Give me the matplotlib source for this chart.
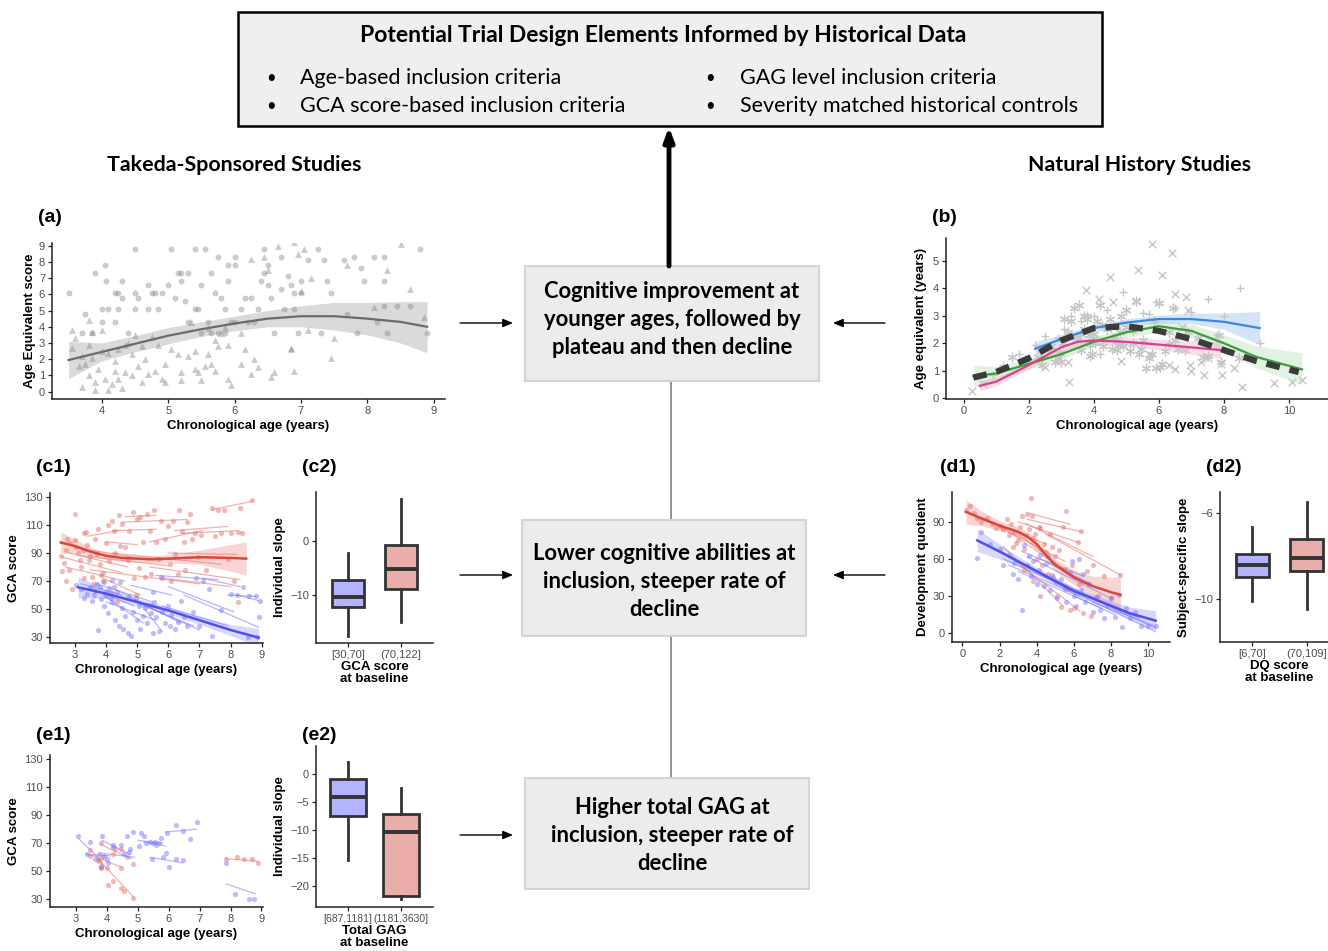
import matplotlib
matplotlib.use("Agg")
import matplotlib.pyplot as plt
from matplotlib.patches import Rectangle

W, H = 1328, 951

# ---------------- DATA ----------------
# (a) Takeda: age equivalent score vs chronological age
a_circ_x = [3.5,3.7,3.75,3.85,3.9,4.0,4.05,4.07,4.0,4.1,4.2,4.25,4.2,4.3,4.25,4.3,4.4,4.5,4.5,4.5,4.55,4.7,4.75,4.8,4.7,4.85,4.9,5.0,5.05,5.1,5.15,5.2,5.2,5.25,5.3,5.3,5.4,5.4,5.45,5.5,5.5,5.55,5.6,5.65,5.65,5.7,5.75,5.75,5.8,5.85,5.85,5.9,5.9,5.95,6.0,6.0,6.0,6.1,6.15,6.2,6.25,6.3,6.35,6.45,6.45,6.5,6.5,6.4,6.55,6.6,6.7,6.7,6.75,6.8,6.85,6.9,6.9,6.95,7.0,7.0,7.1,7.25,7.3,7.35,7.4,7.45,7.65,7.7,7.8,7.85,7.9,7.95,8.1,8.15,8.25,8.25,8.3,8.45,8.65,8.8,8.9,8.25]
a_circ_y = [6.1,3.6,4.8,3.6,7.3,5.1,7.8,6.8,4.3,5.1,6.1,6.1,4.3,6.8,5.1,5.8,3.6,8.8,6.1,5.1,5.8,6.6,6.1,6.1,5.1,5.1,6.1,6.6,8.8,5.8,7.3,7.3,6.8,5.6,7.3,4.3,8.8,5.1,5.1,3.6,6.6,8.8,4.3,7.3,3.6,6.1,8.3,3.6,5.8,3.6,5.1,7.8,6.8,4.3,8.3,7.8,4.3,5.1,5.8,4.3,5.8,4.3,5.1,8.8,7.3,7.8,6.6,6.8,5.8,3.6,8.3,6.3,5.1,7.1,6.6,6.1,5.1,3.6,6.8,6.1,8.1,8.8,3.6,8.1,6.8,6.1,8.1,4.8,8.3,3.6,7.6,6.8,8.3,4.3,6.8,5.3,3.6,5.3,5.3,8.8,3.6,8.3]
a_tri_x = [3.55,3.55,3.6,3.65,3.7,3.7,3.75,3.8,3.8,3.8,3.85,3.85,3.9,3.9,3.95,4.0,4.0,4.05,4.1,4.1,4.15,4.2,4.2,4.25,4.25,4.3,4.35,4.35,4.4,4.45,4.45,4.5,4.55,4.6,4.6,4.65,4.7,4.75,4.8,4.85,4.9,4.95,4.95,5.05,5.15,5.2,5.2,5.3,5.35,5.4,5.4,5.45,5.5,5.55,5.6,5.6,5.65,5.7,5.7,5.75,5.8,5.85,5.9,5.9,5.95,6.1,6.1,6.15,6.25,6.25,6.3,6.35,6.45,6.5,6.55,6.6,6.65,6.85,6.9,6.9,6.95,7.0,7.05,7.1,7.15,7.45,7.5,7.7,8.1,8.3,8.5,8.65,8.85,6.85]
a_tri_y = [3.8,2.7,3.3,1.6,0.3,2.2,1.7,4.4,1.0,2.9,3.7,2.1,0.6,0.1,1.4,2.5,3.8,0.8,2.4,0.1,0.5,1.9,1.3,0.8,2.6,0.2,2.9,1.2,3.0,1.0,2.3,3.5,1.6,0.6,2.8,2.0,1.1,3.4,1.3,2.9,0.8,0.6,1.7,2.6,2.3,1.2,0.7,2.2,4.3,2.5,1.4,1.2,0.7,1.6,2.3,3.9,1.7,3.2,1.3,2.8,3.6,4.0,2.9,0.8,0.4,3.6,1.7,2.6,8.2,1.1,2.0,1.5,8.3,7.5,0.9,1.2,9.0,2.6,9.2,1.3,8.5,6.2,8.8,3.8,7.0,2.1,3.3,7.8,5.2,7.5,9.1,6.3,4.6,2.7]
a_fit_x  = [3.5, 4.0, 4.5, 5.0, 5.5, 6.0, 6.5, 7.0, 7.5, 8.0, 8.5, 8.9]
a_fit_y  = [1.95,2.45,2.95,3.45,3.85,4.2, 4.5, 4.65,4.65,4.5, 4.3, 4.0]
a_fit_lo = [0.8, 1.9, 2.45,2.95,3.4, 3.75,4.0, 4.0, 3.8, 3.5, 3.0, 2.4]
a_fit_hi = [3.1, 3.0, 3.45,3.95,4.3, 4.65,5.0, 5.3, 5.5, 5.5, 5.55,5.55]

# (b) Natural history: age equivalent vs chronological age
b_x_x = [0.25,0.6,3.25,4.15,4.5,5.35,5.8,6.1,6.4,6.5,6.85,6.3,6.5,7.0,7.4,7.5,7.95,8.3,8.55,9.55,10.1,10.4,6.95,7.9,5.7,4.85,3.75,5.3,4.6,6.7,7.3,3.2,2.5,6.9]
b_x_y = [0.25,0.5,0.6,3.6,4.4,4.65,5.6,4.5,5.3,3.8,3.7,1.2,1.05,1.0,0.85,1.45,0.85,1.1,0.4,0.55,0.6,0.65,1.2,1.25,1.6,1.35,3.95,3.55,3.5,2.6,1.3,1.3,1.15,3.2]
b_p_x = [2.5,2.9,3.1,3.3,3.6,4.0,4.2,4.4,4.9,5.2,5.5,5.7,5.9,6.0,6.3,6.5,7.0,7.5,8.0,8.5,9.1,7.8,6.8,2.2,1.7,1.2,0.9,4.7,3.9,2.7]
b_p_y = [2.25,2.2,2.5,3.0,2.8,3.0,1.6,3.2,3.85,2.4,3.1,3.05,3.5,3.5,2.0,3.3,3.15,3.6,3.0,4.0,2.0,2.3,2.5,1.95,1.6,1.2,0.85,2.1,1.9,1.8]
b_s_x = [1.5,1.9,2.3,2.4,2.6,2.7,2.8,2.9,3.0,3.05,3.1,3.2,3.3,3.4,3.5,3.55,3.6,3.7,3.7,3.8,3.8,3.85,3.9,3.95,4.0,4.05,4.1,4.2,4.25,4.3,4.4,4.5,4.55,4.6,4.7,4.8,4.85,4.9,5.0,5.0,5.1,5.2,5.3,5.4,5.5,5.6,5.7,5.8,5.9,6.0,6.05,6.1,6.2,6.3,6.45,6.5,6.6,6.8,7.2,7.35,7.5,7.85,7.9,8.45,5.45,4.75,4.0,3.6,2.95,5.85,6.9]
b_s_y = [1.5,1.4,1.5,1.2,1.75,1.9,1.3,1.45,1.3,2.0,2.9,2.4,2.8,3.3,2.2,3.4,1.75,2.5,3.0,2.9,3.0,2.3,1.55,1.6,2.2,2.0,2.8,3.4,2.65,1.9,2.5,2.9,1.8,2.2,1.75,2.4,3.0,1.9,3.2,2.6,1.7,2.0,3.55,1.6,2.1,1.1,1.45,1.6,1.1,3.45,1.15,1.25,1.7,2.4,3.3,2.1,1.8,1.75,2.2,1.5,1.55,2.3,1.3,1.45,1.8,1.95,2.35,2.35,1.65,2.8,2.4]
b_all_x = [0.3,1.0,2.0,3.0,4.0,5.0,6.0,7.0,8.0,9.0,10.3]
b_all_y = [0.75,0.95,1.45,2.1,2.55,2.62,2.45,2.15,1.75,1.35,0.95]
b_blue_x  = [2.2,3.0,4.0,5.0,6.0,7.0,8.0,9.1]
b_blue_y  = [1.8,2.15,2.55,2.75,2.88,2.88,2.78,2.55]
b_blue_lo = [1.55,1.98,2.42,2.62,2.74,2.72,2.5,1.95]
b_blue_hi = [2.05,2.32,2.68,2.88,3.02,3.1,3.1,3.15]
b_green_x  = [0.3,1.0,2.0,3.0,4.0,5.0,6.0,7.0,8.0,9.0,10.4]
b_green_y  = [0.8,0.9,1.25,1.6,2.05,2.4,2.62,2.45,2.0,1.5,1.05]
b_green_lo = [0.4,0.65,1.05,1.42,1.88,2.22,2.4,2.2,1.7,1.1,0.5]
b_green_hi = [1.2,1.15,1.45,1.78,2.22,2.58,2.84,2.7,2.3,1.9,1.65]
b_pink_x  = [0.5,1.0,2.0,3.0,3.5,4.0,5.0,6.0,7.0,7.9]
b_pink_y  = [0.45,0.6,1.2,1.85,2.05,2.1,2.05,1.95,1.85,1.75]
b_pink_lo = [0.25,0.45,1.05,1.7,1.9,1.95,1.88,1.75,1.6,1.45]
b_pink_hi = [0.65,0.75,1.35,2.0,2.2,2.25,2.22,2.15,2.1,2.05]

# (c1) GCA score vs age, split by baseline GCA
c1_red_x = [2.55,2.6,2.65,2.7,2.75,2.8,2.85,2.9,3.0,3.0,3.05,3.1,3.15,3.2,3.25,3.3,3.35,3.4,3.45,3.5,3.55,3.6,3.65,3.7,3.75,3.8,3.85,3.9,3.95,4.0,4.05,4.1,4.15,4.2,4.25,4.3,4.35,4.4,4.45,4.5,4.6,4.7,4.75,4.85,4.9,5.0,5.05,5.1,5.2,5.3,5.4,5.45,5.55,5.6,5.7,5.75,5.8,5.9,6.0,6.05,6.15,6.2,6.3,6.35,6.45,6.5,6.55,6.6,6.7,6.75,6.85,6.95,7.05,7.2,7.4,7.5,7.6,7.7,7.8,7.9,8.0,8.1,8.25,8.3,8.35,8.7,8.25,5.25,4.95,6.1,3.3,2.7]
c1_red_y = [88,77,83,92,100,78,97,64,118,99,94,90,85,80,92,104,105,96,85,88,73,68,100,89,107,82,74,76,69,97,110,84,62,113,106,90,55,117,95,111,94,85,106,119,72,114,79,116,98,118,106,75,121,98,86,113,72,100,109,82,113,89,75,121,106,98,78,112,118,100,104,87,103,78,122,102,121,104,121,86,104,70,55,122,104,128,105,73,60,70,72,70]
c1_red_subj = [(3.4,102,4.4,106),(4.2,106,5.6,107),(4.5,112,6.6,114),(5.4,98,7.1,106),(6.2,106,7.9,109),(7.4,121,8.7,127),(6.4,104,8.2,106),(2.6,87,4.5,76),(2.7,80,4.6,70),(2.8,90,4.7,80),(3.0,94,5.4,85),(3.2,88,6.0,81),(3.5,78,7.0,68),(3.9,72,5.1,60),(4.2,90,7.7,82),(5.4,80,8.3,71),(5.9,72,8.0,66),(6.0,90,8.2,89),(4.0,98,5.0,96),(4.6,116,5.6,117)]
c1_blue_x = [3.05,3.2,3.3,3.4,3.5,3.55,3.6,3.7,3.75,3.8,3.85,3.9,3.95,4.0,4.05,4.1,4.15,4.2,4.25,4.3,4.35,4.4,4.45,4.5,4.55,4.6,4.7,4.75,4.8,4.85,4.95,5.0,5.05,5.1,5.2,5.25,5.3,5.4,5.45,5.5,5.55,5.6,5.7,5.75,5.8,5.9,6.0,6.05,6.1,6.2,6.3,6.4,6.5,6.6,6.8,6.9,7.0,7.1,7.3,7.4,7.7,8.0,8.2,8.4,8.55,8.6,8.8,8.85,8.9,8.95,4.2,3.65,4.0,5.5]
c1_blue_y = [67,64,58,61,66,56,60,68,35,66,57,70,52,62,47,65,58,55,66,42,62,38,69,51,36,45,33,59,31,48,58,42,52,36,45,51,40,53,47,33,55,44,34,73,48,40,52,38,46,36,41,56,44,38,48,72,38,70,64,31,49,61,60,66,30,59,59,30,44,56,71,63,59,62]
c1_blue_subj = [(3.2,68,4.5,60),(3.5,65,4.9,52),(3.7,68,5.5,55),(3.9,60,5.2,40),(4.0,55,5.6,42),(4.3,64,6.4,40),(4.6,58,6.8,38),(5.0,55,7.0,35),(5.2,51,5.8,34),(5.6,74,7.6,71),(5.8,52,7.9,38),(6.0,66,8.1,48),(6.5,60,8.9,37),(7.1,72,8.3,66),(7.9,60,8.8,59),(8.2,60,8.9,56),(4.8,67,6.1,60)]
c1_red_fit_x  = [2.55,3.0,3.5,4.0,4.5,5.0,5.5,6.0,7.0,8.0,8.5]
c1_red_fit_y  = [97.5,95,91,88,86.5,86,85.5,86,87,86.5,86]
c1_red_fit_lo = [90,90,88,85.5,84,83.5,83,83,82,77,74]
c1_red_fit_hi = [105,100,94,90.5,89,88.5,88,89,92,96,98]
c1_blue_fit_x  = [3.1,4.0,5.0,6.0,7.0,8.0,8.9]
c1_blue_fit_y  = [65.5,61,55,49,42,35,29.5]
c1_blue_fit_lo = [58,57.5,52.5,46.5,39,31,23]
c1_blue_fit_hi = [73,64.5,57.5,51.5,45,39,36]

# (c2) individual slope by baseline GCA
c2_groups = ["[30,70]", "(70,122]"]
c2_med   = [-10.4, -5.2]
c2_q1    = [-12.3, -9.0]
c2_q3    = [-7.3, -0.8]
c2_wlo   = [-17.7, -15.1]
c2_whi   = [-2.2, 7.9]

# (d1) development quotient vs age, split by baseline DQ
d1_red_x = [0.2,0.4,0.6,0.8,1.0,1.3,1.6,1.8,2.0,2.2,2.4,2.5,2.6,2.7,2.8,3.0,3.1,3.2,3.3,3.4,3.5,3.6,3.7,3.75,3.8,3.9,4.0,4.1,4.2,4.3,4.4,4.5,4.6,4.7,4.8,4.9,5.0,5.1,5.2,5.3,5.4,5.5,5.6,5.7,5.8,5.9,6.0,6.2,6.3,6.4,6.5,6.7,6.9,7.0,7.3,7.6,8.0,8.5,2.9,3.3,3.8,4.2]
d1_red_y = [100,103,97,93,90,93,88,85,87,84,92,79,88,70,82,75,86,95,68,79,96,84,109,95,77,80,60,86,85,55,72,66,48,80,70,45,62,30,67,21,86,52,99,36,19,55,20,74,40,83,16,50,14,55,30,46,28,47,73,51,42,30]
d1_red_subj = [(1.0,92,3.3,80),(1.5,90,4.5,72),(2.0,86,5.5,58),(2.5,82,6.0,46),(3.0,80,6.5,40),(3.0,90,6.3,73),(3.6,97,5.8,88),(3.4,89,7.0,62),(4.5,80,8.5,47),(2.2,70,5.4,22),(2.7,60,6.3,18),(3.5,92,6.4,82)]
d1_blue_x = [0.8,1.0,1.5,2.0,2.2,2.5,2.7,2.8,3.0,3.2,3.3,3.5,3.6,3.7,3.8,4.0,4.1,4.2,4.4,4.5,4.7,4.8,5.0,5.1,5.3,5.5,5.6,5.8,6.0,6.1,6.3,6.4,6.6,6.8,7.0,7.2,7.4,7.6,7.8,8.0,8.2,8.4,8.6,8.8,9.0,9.3,9.6,10.0,10.4,5.9,4.6,6.5]
d1_blue_y = [61,82,72,68,55,63,48,57,44,19,71,55,62,46,58,40,51,63,38,56,35,47,42,28,44,36,25,49,30,22,60,35,25,40,17,29,19,12,23,28,13,31,5,20,12,17,6,6,6,58,62,48]
d1_blue_subj = [(1.5,70,4.5,45),(2.2,60,5.5,38),(2.5,55,6.3,30),(3.0,50,7.5,20),(3.5,62,8.0,28),(4.0,50,9.0,15),(4.5,45,10.4,4),(5.0,40,10.4,1),(5.5,38,9.5,12),(3.2,66,6.5,46),(4.2,60,6.9,40),(6.0,30,8.2,15),(7.0,25,10.3,6)]
d1_red_fit_x  = [0.2,1.0,2.0,3.0,3.5,4.0,4.5,5.0,6.0,7.0,8.0,8.5]
d1_red_fit_y  = [98,93,87,82,78,72,63,55,45,38,33,31]
d1_red_fit_lo = [88,87,83,78,74,68,59,50,39,30,21,16]
d1_red_fit_hi = [108,99,91,86,82,76,67,60,51,46,45,46]
d1_blue_fit_x  = [0.8,2.0,3.0,4.0,5.0,6.0,7.0,8.0,9.0,10.4]
d1_blue_fit_y  = [75,66,58,50,42,34,28,22,16,10]
d1_blue_fit_lo = [66,60,54,47,39,31,25,18,11,2]
d1_blue_fit_hi = [84,72,62,53,45,37,31,26,21,18]

# (d2) subject-specific slope by baseline DQ
d2_groups = ["[6,70]", "(70,109]"]
d2_med = [-8.43, -8.08]
d2_q1  = [-8.98, -8.68]
d2_q3  = [-7.92, -7.23]
d2_wlo = [-10.06, -10.44]
d2_whi = [-6.67, -5.49]

# (e1) GCA score vs age, split by baseline GAG
e1_blue_x = [3.05,3.35,3.45,3.6,3.75,3.8,3.85,3.9,4.05,4.0,4.2,4.2,4.45,4.55,4.65,4.7,4.75,4.85,5.05,5.1,5.2,5.25,5.4,5.45,5.55,5.5,5.6,5.7,5.75,5.8,5.9,5.95,6.0,6.25,6.25,6.45,6.45,6.7,6.9,7.85,8.15,8.6,8.75]
e1_blue_y = [75,62,71,59,62,53,75,61,56,59,69,67,69,62,75,64,66,78,68,77,75,70,71,59,71,70,69,70,74,60,63,77,53,59,83,58,79,73,85,56,34,30,30]
e1_blue_subj = [(3.1,73,3.75,59),(3.35,62,4.1,61),(3.85,72,4.75,62),(5.0,72,5.8,70),(5.2,71,5.9,68),(5.4,60,6.45,56),(5.9,78,6.9,80),(7.85,41,8.8,34),(3.8,63,4.9,60)]
e1_red_x = [3.45,3.45,3.7,3.75,3.8,3.8,3.8,3.85,4.0,4.05,4.2,4.2,4.25,4.45,4.45,4.45,4.55,4.65,4.85,4.85,7.85,8.2,8.45,8.7,8.9]
e1_red_y = [65,61,58,57,70,54,52,60,52,40,43,62,66,66,38,52,36,60,31,55,59,60,59,59,56]
e1_red_subj = [(3.8,69,4.8,59),(3.45,62,4.45,53),(3.75,58,4.85,32),(3.7,60,3.85,55),(7.85,59,8.9,57)]

# (e2) individual slope by baseline total GAG
e2_groups = ["[687,1181]", "(1181,3630]"]
e2_med = [-4.2, -10.3]
e2_q1  = [-7.6, -21.8]
e2_q3  = [-0.96, -7.2]
e2_wlo = [-15.4, -22.3]
e2_whi = [2.2, -2.5]

# ---------------- STYLE ----------------
PLOT_FONT = "Liberation Sans"
DIAG_FONT = "Lato"
TICKC = "#4d4d4d"
RED_PT = "#e8736b"
BLUE_PT = "#7b7bff"
RED_LN = "#d9463a"
BLUE_LN = "#4f4ff0"
BOX_BLUE = "#b3b3ff"
BOX_RED = "#e9aeaa"

plt.rcParams["font.family"] = PLOT_FONT

fig = plt.figure(figsize=(W / 100, H / 100), dpi=100)
ov = fig.add_axes([0, 0, 1, 1])
ov.set_xlim(0, W)
ov.set_ylim(H, 0)
ov.axis("off")


def pax(l, t, r, b):
    ax = fig.add_axes([l / W, 1 - b / H, (r - l) / W, (b - t) / H])
    for s in ("top", "right"):
        ax.spines[s].set_visible(False)
    for s in ("left", "bottom"):
        ax.spines[s].set_linewidth(1.1)
        ax.spines[s].set_color("#222222")
    ax.tick_params(labelsize=8, colors="#222222", labelcolor=TICKC, length=3, width=0.9, pad=2)
    ax.patch.set_alpha(0)
    return ax


LAB = dict(fontsize=9.5, fontweight="bold", family=PLOT_FONT, color="black")


def panel_label(x, y, s):
    ov.text(x, y, s, fontsize=14, fontweight="bold", family=PLOT_FONT, va="center", ha="left")


def boxes(ax, groups, med, q1, q3, wlo, whi, width):
    stats = []
    for i in range(len(groups)):
        stats.append(dict(med=med[i], q1=q1[i], q3=q3[i], whislo=wlo[i], whishi=whi[i], fliers=[]))
    bp = ax.bxp(stats, positions=list(range(1, len(groups) + 1)), widths=width, patch_artist=True,
                showfliers=False, showcaps=False,
                boxprops=dict(linewidth=2, edgecolor="#333333"),
                medianprops=dict(linewidth=2.8, color="#333333"),
                whiskerprops=dict(linewidth=2, color="#333333"))
    for patch, c in zip(bp["boxes"], [BOX_BLUE, BOX_RED]):
        patch.set_facecolor(c)
    ax.set_xticks(range(1, len(groups) + 1))
    ax.set_xticklabels(groups)
    ax.set_xlim(0.4, len(groups) + 0.6)


# ---------------- DIAGRAM ----------------
ov.add_patch(Rectangle((238, 12), 864, 114, facecolor="#efefef", edgecolor="black", lw=1.8))
ov.text(663, 35, "Potential Trial Design Elements Informed by Historical Data", family=DIAG_FONT,
        fontsize=16.5, fontweight="bold", ha="center", va="center")
for bx, tx, ty, s in [(271, 300, 78, "Age-based inclusion criteria"),
                      (271, 300, 106, "GCA score-based inclusion criteria"),
                      (710, 740, 78, "GAG level inclusion criteria"),
                      (710, 740, 106, "Severity matched historical controls")]:
    ov.text(bx, ty, "•", family=DIAG_FONT, fontsize=12, ha="center", va="center")
    ov.text(tx, ty, s, family=DIAG_FONT, fontsize=15.5, ha="left", va="center")

ov.text(234, 165, "Takeda-Sponsored Studies", family=DIAG_FONT, fontsize=15.4, fontweight="bold",
        ha="center", va="center")
ov.text(1140, 165, "Natural History Studies", family=DIAG_FONT, fontsize=15.4, fontweight="bold",
        ha="center", va="center")

ov.plot([671, 671], [381, 520], color="#888888", lw=1.3, zorder=0)
ov.plot([671, 671], [636, 778], color="#888888", lw=1.3, zorder=0)
ov.annotate("", xy=(669, 127), xytext=(669, 266),
            arrowprops=dict(arrowstyle="-|>,head_length=0.8,head_width=0.3", lw=3.5, color="black",
                            shrinkA=0, shrinkB=0))

center_boxes = [((525, 266, 294, 115), 672, [292, 320, 348],
                 ["Cognitive improvement at", "younger ages, followed by", "plateau and then decline"]),
                ((522, 520, 284, 116), 664, [554, 582, 610],
                 ["Lower cognitive abilities at", "inclusion, steeper rate of", "decline"]),
                ((525, 778, 284, 111), 672, [807, 835, 863],
                 ["Higher total GAG at", "inclusion, steeper rate of", "decline"])]
for (x, y, w, h), cx, ys, lines in center_boxes:
    ov.add_patch(Rectangle((x, y), w, h, facecolor="#ececec", edgecolor="#d4d4d4", lw=1.5))
    for ty, s in zip(ys, lines):
        ov.text(cx, ty, s, family=DIAG_FONT, fontsize=15.8, fontweight="bold", ha="center", va="center")

arr = dict(arrowstyle="-|>,head_length=0.6,head_width=0.25", lw=1, color="black", shrinkA=0, shrinkB=0)
for y in (323, 575, 835):
    ov.annotate("", xy=(513, y), xytext=(460, y), arrowprops=arr)
for y in (323, 575):
    ov.annotate("", xy=(833, y), xytext=(885, y), arrowprops=arr)

# ---------------- (a) ----------------
panel_label(38, 218, "(a)")
ax = pax(52, 243, 445, 399)
ax.fill_between(a_fit_x, a_fit_lo, a_fit_hi, color="#bdbdbd", alpha=0.55, lw=0, zorder=1)
ax.scatter(a_circ_x, a_circ_y, s=18, marker="o", color="#7f7f7f", alpha=0.4, lw=0, zorder=2)
ax.scatter(a_tri_x, a_tri_y, s=24, marker="^", color="#7f7f7f", alpha=0.4, lw=0, zorder=2)
ax.plot(a_fit_x, a_fit_y, color="#6b6b6b", lw=1.6, zorder=3)
ax.set_xlim(3.25, 9.17)
ax.set_ylim(-0.45, 9.16)
ax.set_xticks(range(4, 10))
ax.set_yticks(range(0, 10))
ax.set_xlabel("Chronological age (years)", labelpad=3, **LAB)
ax.set_ylabel("Age Equivalent score", labelpad=2, **LAB)

# ---------------- (b) ----------------
panel_label(932, 218, "(b)")
ax = pax(946, 238, 1328, 399)
gc = "#c6c6c6"
ax.scatter(b_x_x, b_x_y, s=30, marker="x", color=gc, lw=1.0, zorder=2)
ax.scatter(b_p_x, b_p_y, s=40, marker="+", color=gc, lw=1.0, zorder=2)
ax.scatter(b_s_x, b_s_y, s=40, marker=(6, 2, 0), color=gc, lw=0.9, zorder=2)
ax.fill_between(b_green_x, b_green_lo, b_green_hi, color="#6cbf6c", alpha=0.2, lw=0, zorder=1)
ax.fill_between(b_blue_x, b_blue_lo, b_blue_hi, color="#6fa8e6", alpha=0.3, lw=0, zorder=1)
ax.fill_between(b_pink_x, b_pink_lo, b_pink_hi, color="#e27fae", alpha=0.25, lw=0, zorder=1)
ax.plot(b_green_x, b_green_y, color="#3c9d3c", lw=1.6, zorder=3)
ax.plot(b_blue_x, b_blue_y, color="#3a86dc", lw=1.6, zorder=3)
ax.plot(b_pink_x, b_pink_y, color="#d9408d", lw=1.6, zorder=3)
ax.plot(b_all_x, b_all_y, color="#3b3b3b", lw=4.5, dashes=(2.2, 1.6), zorder=4)
ax.set_xlim(-0.54, 11.2)
ax.set_ylim(-0.03, 5.83)
ax.set_xticks(range(0, 11, 2))
ax.set_yticks(range(0, 6))
ax.set_xlabel("Chronological age (years)", labelpad=3, **LAB)
ax.set_ylabel("Age equivalent (years)", labelpad=4, **LAB)


def traj_panel(ax, rx, ry, rsub, bx, by, bsub):
    for (x0, y0, x1, y1) in rsub:
        ax.plot([x0, x1], [y0, y1], color=RED_PT, lw=0.9, alpha=0.55, zorder=2)
    for (x0, y0, x1, y1) in bsub:
        ax.plot([x0, x1], [y0, y1], color=BLUE_PT, lw=0.9, alpha=0.55, zorder=2)
    ax.scatter(rx, ry, s=14, color=RED_PT, alpha=0.5, lw=0, zorder=2)
    ax.scatter(bx, by, s=14, color=BLUE_PT, alpha=0.5, lw=0, zorder=2)


# ---------------- (c1) ----------------
panel_label(36, 467, "(c1)")
ax = pax(50, 493, 263, 643)
traj_panel(ax, c1_red_x, c1_red_y, c1_red_subj, c1_blue_x, c1_blue_y, c1_blue_subj)
ax.fill_between(c1_red_fit_x, c1_red_fit_lo, c1_red_fit_hi, color=RED_PT, alpha=0.3, lw=0, zorder=1)
ax.fill_between(c1_blue_fit_x, c1_blue_fit_lo, c1_blue_fit_hi, color=BLUE_PT, alpha=0.3, lw=0, zorder=1)
ax.plot(c1_red_fit_x, c1_red_fit_y, color=RED_LN, lw=1.8, zorder=3)
ax.plot(c1_blue_fit_x, c1_blue_fit_y, color=BLUE_LN, lw=1.8, zorder=3)
ax.set_xlim(2.2, 9.04)
ax.set_ylim(25.7, 132.9)
ax.set_xticks(range(3, 10))
ax.set_yticks(range(30, 131, 20))
ax.set_xlabel("Chronological age (years)", labelpad=3, **LAB)
ax.set_ylabel("GCA score", labelpad=3, **LAB)

# ---------------- (c2) ----------------
panel_label(302, 467, "(c2)")
ax = pax(316, 492, 433, 643)
boxes(ax, c2_groups, c2_med, c2_q1, c2_q3, c2_wlo, c2_whi, 0.61)
ax.set_ylim(-19.0, 9.13)
ax.set_yticks([-10, 0])
ax.set_xlabel("GCA score\nat baseline", labelpad=1, linespacing=0.95, **LAB)
ax.set_ylabel("Individual slope", labelpad=3, **LAB)

# ---------------- (d1) ----------------
panel_label(940, 467, "(d1)")
ax = pax(952, 492, 1170, 642)
traj_panel(ax, d1_red_x, d1_red_y, d1_red_subj, d1_blue_x, d1_blue_y, d1_blue_subj)
ax.fill_between(d1_red_fit_x, d1_red_fit_lo, d1_red_fit_hi, color=RED_PT, alpha=0.3, lw=0, zorder=1)
ax.fill_between(d1_blue_fit_x, d1_blue_fit_lo, d1_blue_fit_hi, color=BLUE_PT, alpha=0.3, lw=0, zorder=1)
ax.plot(d1_red_fit_x, d1_red_fit_y, color=RED_LN, lw=1.8, zorder=3)
ax.plot(d1_blue_fit_x, d1_blue_fit_y, color=BLUE_LN, lw=1.8, zorder=3)
ax.set_xlim(-0.56, 11.17)
ax.set_ylim(-7.3, 114.2)
ax.set_xticks(range(0, 11, 2))
ax.set_yticks([0, 30, 60, 90])
ax.set_xlabel("Chronological age (years)", labelpad=3, **LAB)
ax.set_ylabel("Development quotient", labelpad=3, **LAB)

# ---------------- (d2) ----------------
panel_label(1206, 467, "(d2)")
ax = pax(1220, 492, 1339, 642)
boxes(ax, d2_groups, d2_med, d2_q1, d2_q3, d2_wlo, d2_whi, 0.61)
ax.set_ylim(-11.98, -5.03)
ax.set_yticks([-10, -6])
ax.set_xlabel("DQ score\nat baseline", labelpad=1, linespacing=0.95, **LAB)
ax.set_ylabel("Subject-specific slope", labelpad=3, **LAB)

# ---------------- (e1) ----------------
panel_label(36, 736, "(e1)")
ax = pax(50, 755, 263, 907)
traj_panel(ax, e1_red_x, e1_red_y, e1_red_subj, e1_blue_x, e1_blue_y, e1_blue_subj)
ax.set_xlim(2.16, 9.05)
ax.set_ylim(24.5, 132.9)
ax.set_xticks(range(3, 10))
ax.set_yticks(range(30, 131, 20))
ax.set_xlabel("Chronological age (years)", labelpad=3, **LAB)
ax.set_ylabel("GCA score", labelpad=3, **LAB)

# ---------------- (e2) ----------------
panel_label(302, 736, "(e2)")
ax = pax(316, 746, 433, 907)
boxes(ax, e2_groups, e2_med, e2_q1, e2_q3, e2_wlo, e2_whi, 0.68)
ax.set_ylim(-23.8, 5.0)
ax.set_yticks([0, -5, -10, -15, -20])
ax.tick_params(axis="x", labelsize=7.5)
ax.set_xlabel("Total GAG\nat baseline", labelpad=1, linespacing=0.95, **LAB)
ax.set_ylabel("Individual slope", labelpad=3, **LAB)

fig.savefig("out.png", dpi=100)
